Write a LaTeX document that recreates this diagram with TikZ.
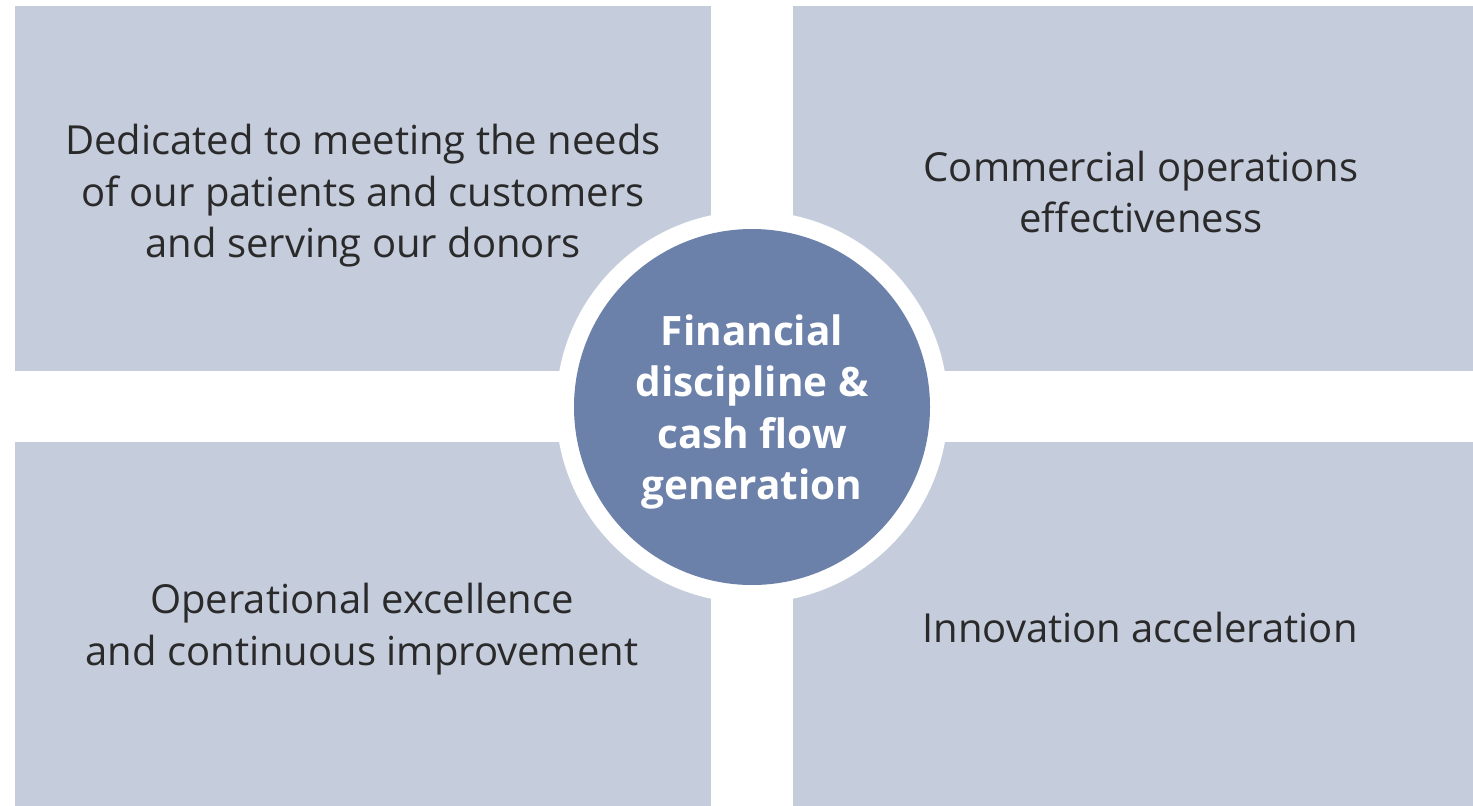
\documentclass[tikz,border=0pt]{standalone}
\usepackage{fontspec}
\setmainfont{Open Sans}
\definecolor{panel}{HTML}{C5CCDC}
\definecolor{hub}{HTML}{6C81AA}
\definecolor{ink}{HTML}{2A2A2A}
\begin{document}
\begin{tikzpicture}[x=1pt,y=-1pt,
  panel/.style={fill=panel,draw=none},
  paneltext/.style={align=center,text=ink,font=\fontsize{40}{51.5}\selectfont},
  hubtext/.style={align=center,text=white,font=\fontsize{40.5}{51.3}\selectfont\bfseries}]
\useasboundingbox (0,0) rectangle (1473,806);
\fill[white] (0,0) rectangle (1473,806);
% four quadrant panels
\fill[panel] (15,6) rectangle (711,371);
\fill[panel] (793,6) rectangle (1473,371);
\fill[panel] (15,442) rectangle (711,806);
\fill[panel] (793,442) rectangle (1473,806);
% centre disc with white ring
\fill[white] (752,407) circle (196);
\node[circle,fill=hub,minimum size=356pt,inner sep=0pt] (hub) at (752,407) {};
\node[hubtext] (hubl) at (752,412) {Financial\\discipline \&\\cash flow\\generation};
\node[paneltext] (tl) at (363,196) {Dedicated to meeting the needs\\of our patients and customers\\and serving our donors};
\node[paneltext] (tr) at (1141,192) {Commercial operations\\effectiveness};
\node[paneltext] (bl) at (362,629) {Operational excellence\\and continuous improvement};
\node[paneltext] (br) at (1140,627) {Innovation acceleration};
\end{tikzpicture}
\end{document}
